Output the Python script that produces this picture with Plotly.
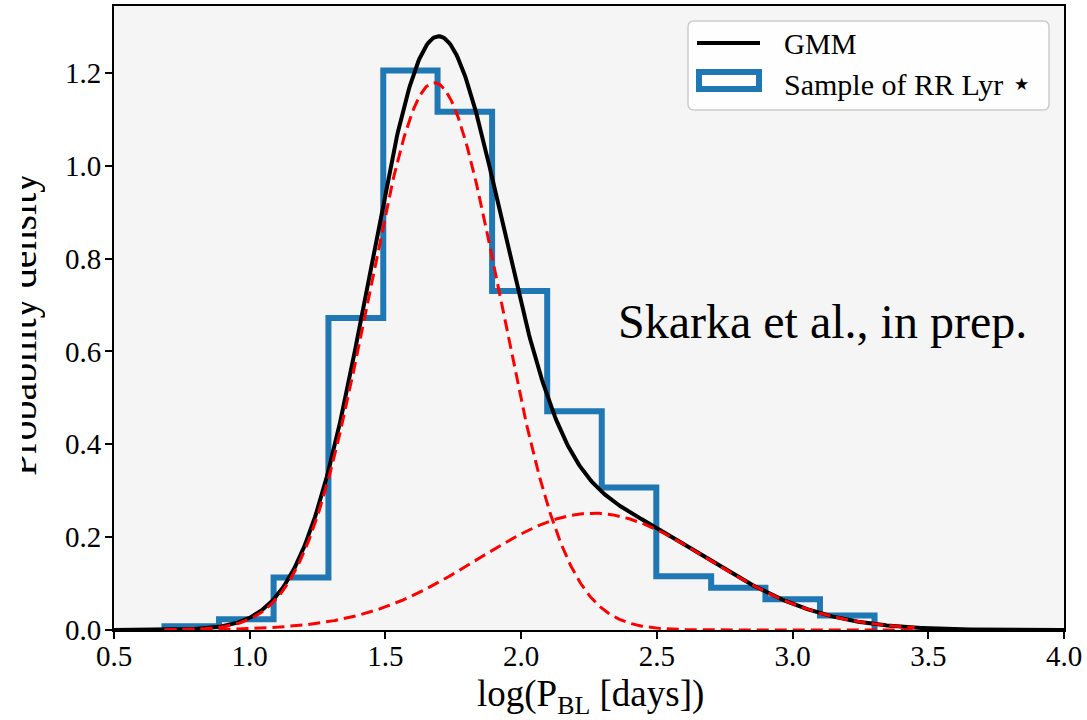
import numpy as np
import plotly.graph_objects as go

# ---------------- data ----------------
bin_edges = [0.686, 0.887, 1.088, 1.290, 1.492, 1.692, 1.893, 2.096,
             2.297, 2.498, 2.700, 2.900, 3.101, 3.302]
bin_density = [0.008, 0.023, 0.113, 0.672, 1.205, 1.116, 0.730,
               0.471, 0.307, 0.116, 0.091, 0.066, 0.031]

gmm_weights = [0.718, 0.268]
gmm_means = [1.680, 2.265]
gmm_sigmas = [0.243, 0.425]
gmm_range = [0.5, 4.0]
component_range = [0.686, 3.45]

x_ticks = [0.5, 1.0, 1.5, 2.0, 2.5, 3.0, 3.5, 4.0]
y_ticks = [0.0, 0.2, 0.4, 0.6, 0.8, 1.0, 1.2]

x_label = "log(P<sub>BL</sub> [days])"
y_label = "Probability density"
note_text = "Skarka et al., in prep."
legend_labels = ["GMM", "Sample of RR Lyr <span style='font-size:34px'>\u22c6</span>"]

# ---------------- figure geometry ----------------
W, H = 1087, 720
ML, MR, MT, MB = 114, 23, 6, 90
PW, PH = W - ML - MR, H - MT - MB


def px(xp):
    return (xp - ML) / PW


def py(yp):
    return (H - MB - yp) / PH


SERIF = "Liberation Serif, Times New Roman, serif"


def gauss(x, w, m, s):
    return w / (s * np.sqrt(2 * np.pi)) * np.exp(-0.5 * ((x - m) / s) ** 2)


xg = np.linspace(gmm_range[0], gmm_range[1], 800)
gmm_total = sum(gauss(xg, w, m, s) for w, m, s in zip(gmm_weights, gmm_means, gmm_sigmas))
xc = np.linspace(component_range[0], component_range[1], 700)

fig = go.Figure()

# step histogram (no bottom line)
hx = [bin_edges[0]] + list(bin_edges)
hy = [0.0] + list(bin_density) + [0.0]
fig.add_trace(go.Scatter(x=hx, y=hy, mode="lines", line=dict(color="#1f77b4", width=6, shape="hv"),
                         showlegend=False, hoverinfo="skip"))

fig.add_trace(go.Scatter(x=xg, y=gmm_total, mode="lines", line=dict(color="black", width=4),
                         showlegend=False))

for w, m, s in zip(gmm_weights, gmm_means, gmm_sigmas):
    fig.add_trace(go.Scatter(x=xc, y=gauss(xc, w, m, s), mode="lines",
                             line=dict(color="#ff0000", width=3, dash="12px,6px"),
                             showlegend=False))

# ---------------- manual legend ----------------
lx0, lx1, ly0, ly1, r = 688, 1049, 21, 110, 6
rx, ry = r / PW, r / PH
X0, X1, Y0, Y1 = px(lx0), px(lx1), py(ly1), py(ly0)
legend_path = (f"M{X0+rx},{Y0} L{X1-rx},{Y0} Q{X1},{Y0} {X1},{Y0+ry} "
               f"L{X1},{Y1-ry} Q{X1},{Y1} {X1-rx},{Y1} L{X0+rx},{Y1} "
               f"Q{X0},{Y1} {X0},{Y1-ry} L{X0},{Y0+ry} Q{X0},{Y0} {X0+rx},{Y0} Z")
shapes = [
    dict(type="path", xref="paper", yref="paper", path=legend_path,
         fillcolor="rgba(255,255,255,0.85)", line=dict(color="#cccccc", width=1.5), layer="above"),
    dict(type="line", xref="paper", yref="paper", x0=px(697), x1=px(760), y0=py(43), y1=py(43),
         line=dict(color="black", width=4), layer="above"),
    dict(type="rect", xref="paper", yref="paper", x0=px(699), x1=px(759), y0=py(89), y1=py(72),
         fillcolor="white", line=dict(color="#1f77b4", width=6), layer="above"),
]

annotations = [
    dict(xref="paper", yref="paper", x=px(782), y=py(43.5), xanchor="left", yanchor="middle",
         text=legend_labels[0], showarrow=False, font=dict(family=SERIF, size=29, color="black")),
    dict(xref="paper", yref="paper", x=px(782), y=py(83.5), xanchor="left", yanchor="middle",
         text=legend_labels[1], showarrow=False, font=dict(family=SERIF, size=30, color="black")),
    dict(xref="paper", yref="paper", x=px(822), y=py(321), xanchor="center", yanchor="middle",
         text=note_text, showarrow=False, font=dict(family=SERIF, size=48, color="black")),
    dict(xref="paper", yref="paper", x=px(590), y=py(696), xanchor="center", yanchor="middle",
         text=x_label, showarrow=False, font=dict(family=SERIF, size=37, color="black")),
    # y label, partly clipped at its top edge as in the reference
    dict(xref="paper", yref="paper", x=px(33.5), y=py(324.5), xanchor="center", yanchor="middle",
         text=y_label, showarrow=False, textangle=-90, height=23, valign="bottom", borderpad=0,
         font=dict(family=SERIF, size=40, color="black")),
]

axis_common = dict(showline=True, linecolor="black", linewidth=2, mirror=True,
                   ticks="outside", ticklen=7, tickwidth=1.5, tickcolor="black",
                   showgrid=False, zeroline=False,
                   tickfont=dict(family=SERIF, size=29, color="black"))

fig.update_layout(
    width=W, height=H,
    margin=dict(l=ML, r=MR, t=MT, b=MB, autoexpand=False),
    paper_bgcolor="white", plot_bgcolor="#f5f5f5",
    xaxis=dict(range=[0.5, 4.0], tickvals=x_ticks, ticktext=[f"{v:.1f}" for v in x_ticks],
               ticklabelstandoff=-8, **axis_common),
    yaxis=dict(range=[0, 1.344], tickvals=y_ticks, ticktext=[f"{v:.1f}" for v in y_ticks],
               ticklabelstandoff=-2, **axis_common),
    shapes=shapes, annotations=annotations, showlegend=False,
)

fig.write_html("out.html", config={"displayModeBar": False},
               post_script="document.body.style.margin='0';document.body.style.padding='0';")
